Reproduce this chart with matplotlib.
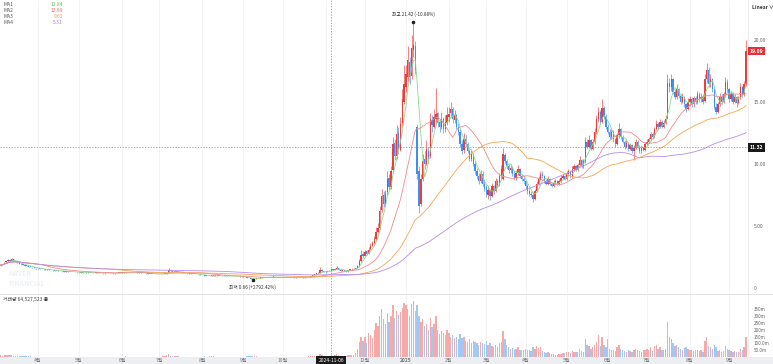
import numpy as np
import pandas as pd
import matplotlib
matplotlib.use("Agg")
import matplotlib.pyplot as plt
from matplotlib.patches import Rectangle

plt.rcParams['font.family'] = ['Noto Sans CJK KR', 'DejaVu Sans']

# ---------------- data (daily, 2024-03-04 .. 2025-09-12) ----------------
start_date = "2024-03-04"

opens = [
    1.80, 1.84, 1.92, 2.06, 2.14, 2.26, 2.20, 2.30, 2.17, 2.10, 2.04, 1.96, 1.92, 1.84, 1.80, 1.78, 1.73, 1.70, 1.67, 1.63,
    1.60, 1.58, 1.55, 1.52, 1.50, 1.47, 1.50, 1.46, 1.44, 1.42, 1.40, 1.37, 1.40, 1.36, 1.35, 1.32, 1.35, 1.32, 1.29, 1.31, 1.27, 1.30,
    1.27, 1.26, 1.25, 1.28, 1.30, 1.26, 1.24, 1.22, 1.20, 1.22, 1.25, 1.24, 1.22, 1.20, 1.18, 1.20, 1.22, 1.21, 1.19, 1.18, 1.20, 1.22, 1.24,
    1.23, 1.24, 1.26, 1.30, 1.28, 1.27, 1.29, 1.30, 1.28, 1.26, 1.25, 1.24, 1.22, 1.20, 1.18, 1.16, 1.15, 1.14, 1.13, 1.12,
    1.12, 1.12, 1.13, 1.14, 1.15, 1.21, 1.44, 1.35, 1.30, 1.32, 1.36, 1.30, 1.28, 1.25, 1.22, 1.20, 1.18, 1.17, 1.16, 1.15, 1.14, 1.12, 1.10,
    1.08, 1.05, 1.00, 0.98, 0.95, 0.97, 1.00, 1.02, 1.00, 0.98, 0.97, 0.96, 0.98, 1.00, 0.99, 0.97, 0.96, 0.95, 0.94, 0.96, 0.95, 0.93,
    0.92, 0.90, 0.86, 0.82, 0.78, 0.74, 0.70, 0.72, 0.78, 0.82, 0.85, 0.86, 0.88, 0.87, 0.86, 0.88, 0.90, 0.89, 0.88, 0.87, 0.88,
    0.89, 0.88, 0.87, 0.86, 0.88, 0.87, 0.86, 0.85, 0.86, 0.87, 0.88, 0.86, 0.85, 0.86, 0.88, 0.90, 0.96, 1.04, 1.12, 1.18, 1.23, 1.44, 1.35,
    1.31, 1.28, 1.36, 1.40, 1.50, 1.45, 1.55, 1.62, 1.48, 1.40, 1.42, 1.38, 1.35, 1.45, 1.50, 1.55, 1.52, 1.60, 1.76, 2.20, 2.72,
    2.62, 2.95, 2.78, 3.12, 3.42, 3.62, 3.98, 4.55, 4.85, 6.30, 7.50, 6.80, 7.70, 8.90, 8.10, 9.50, 11.70, 10.60, 12.50, 11.10, 13.30, 15.00,
    16.2, 17.0, 18.2, 17.1, 19.2, 19.5, 13.0, 9.4, 6.8, 8.8, 10.4, 10.0, 11.0, 10.6, 13.5, 13.0, 13.6, 14.1, 13.4, 13.0, 13.6, 12.8, 13.3,
    13.8, 14.1, 14.4, 13.5, 13.9, 13.0, 12.6, 11.6, 11.1, 12.0, 11.6, 11.0, 10.4, 10.8, 10.0, 9.4, 9.0, 8.6, 9.2, 8.4,
    8.1, 7.5, 7.9, 7.4, 8.2, 7.8, 8.6, 8.3, 9.0, 8.8, 10.7, 10.2, 9.8, 9.5, 9.7, 9.2, 8.9, 9.3, 9.6, 9.0, 8.8,
    8.6, 8.2, 7.8, 7.6, 7.5, 7.2, 7.8, 8.4, 8.8, 9.2, 9.0, 8.6, 8.4, 8.8, 8.4, 8.2, 8.5, 8.6, 8.4, 8.6, 8.9, 9.0,
    8.8, 9.2, 9.4, 9.0, 9.6, 9.8, 9.5, 9.9, 10.3, 9.8, 10.2, 11.8, 11.4, 11.9, 11.2, 11.8, 12.6, 13.6, 14.2, 13.4, 14.5, 13.8,
    13.0, 12.6, 12.2, 12.6, 12.0, 11.6, 12.3, 12.8, 12.2, 11.8, 11.4, 11.7, 11.2, 11.5, 11.0, 11.3, 11.8, 11.4, 11.0, 11.3, 11.1,
    11.6, 11.8, 12.0, 12.4, 12.2, 12.8, 13.2, 13.0, 13.4, 13.0, 13.3, 13.7, 16.5, 16.2, 16.8, 15.8, 15.4, 16.0, 15.5, 15.0, 15.4, 14.8, 14.4,
    15.0, 15.2, 14.8, 15.3, 15.0, 15.6, 15.2, 15.4, 15.1, 16.8, 17.6, 16.4, 16.8, 16.0, 14.6, 14.2, 14.8, 15.4, 15.0, 15.6, 16.6,
    16.0, 15.2, 15.6, 15.0, 15.4, 14.9, 15.3, 16.2, 15.6, 16.4,
]

highs = [
    1.88, 1.95, 2.10, 2.20, 2.35, 2.32, 2.45, 2.32, 2.20, 2.12, 2.06, 1.98, 1.94, 1.86, 1.83, 1.80, 1.75, 1.72, 1.68, 1.65,
    1.62, 1.60, 1.57, 1.54, 1.51, 1.53, 1.51, 1.48, 1.45, 1.43, 1.41, 1.42, 1.41, 1.38, 1.36, 1.37, 1.36, 1.33, 1.33, 1.32, 1.32, 1.31,
    1.29, 1.28, 1.30, 1.33, 1.31, 1.28, 1.25, 1.23, 1.24, 1.27, 1.26, 1.25, 1.23, 1.21, 1.22, 1.24, 1.23, 1.22, 1.20, 1.22, 1.24, 1.26, 1.25,
    1.26, 1.28, 1.33, 1.32, 1.30, 1.31, 1.32, 1.31, 1.29, 1.27, 1.26, 1.25, 1.23, 1.21, 1.19, 1.17, 1.16, 1.15, 1.14, 1.14,
    1.14, 1.14, 1.15, 1.16, 1.22, 1.60, 1.48, 1.37, 1.35, 1.40, 1.37, 1.31, 1.29, 1.26, 1.23, 1.21, 1.19, 1.18, 1.17, 1.16, 1.15, 1.13, 1.11,
    1.09, 1.06, 1.02, 0.99, 0.98, 1.02, 1.04, 1.03, 1.01, 0.99, 0.98, 0.99, 1.02, 1.01, 1.00, 0.98, 0.97, 0.96, 0.97, 0.97, 0.96, 0.94,
    0.93, 0.91, 0.87, 0.83, 0.79, 0.75, 0.74, 0.80, 0.84, 0.87, 0.88, 0.90, 0.89, 0.88, 0.90, 0.92, 0.91, 0.90, 0.89, 0.90, 0.91,
    0.90, 0.89, 0.88, 0.89, 0.89, 0.88, 0.87, 0.87, 0.88, 0.89, 0.89, 0.87, 0.87, 0.89, 0.92, 0.97, 1.08, 1.16, 1.22, 1.28, 1.70, 1.50, 1.38,
    1.34, 1.38, 1.44, 1.56, 1.52, 1.60, 1.75, 1.64, 1.50, 1.46, 1.44, 1.40, 1.48, 1.55, 1.60, 1.58, 1.64, 1.82, 2.35, 3.10, 2.95,
    3.05, 3.10, 3.30, 3.60, 3.80, 4.20, 4.90, 5.20, 6.60, 8.00, 7.80, 7.90, 9.40, 9.20, 9.80, 12.20, 12.00, 13.10, 13.00, 13.80, 16.00, 18.00,
    18.0, 19.5, 18.6, 20.4, 21.42, 19.9, 13.2, 9.8, 9.2, 10.8, 11.0, 11.9, 11.4, 14.1, 13.9, 14.4, 16.1, 14.2, 13.6, 14.2, 13.8, 13.9, 14.6,
    14.6, 15.0, 14.6, 14.3, 14.0, 13.3, 12.8, 11.9, 12.5, 12.3, 11.8, 11.2, 11.1, 10.9, 10.2, 9.7, 9.3, 9.5, 9.4, 8.7,
    8.3, 8.2, 8.0, 8.5, 8.3, 8.9, 8.8, 9.3, 9.9, 11.3, 10.9, 10.4, 10.0, 10.0, 9.8, 9.4, 9.5, 9.9, 9.7, 9.2, 9.0,
    8.7, 8.4, 8.0, 7.8, 7.7, 8.0, 8.6, 9.0, 9.4, 9.4, 9.1, 8.8, 9.0, 8.9, 8.5, 8.7, 8.8, 8.7, 8.8, 9.1, 9.2, 9.1,
    9.4, 9.6, 9.5, 9.8, 10.0, 9.9, 10.1, 10.6, 10.4, 10.4, 12.2, 12.0, 12.3, 12.0, 12.0, 12.9, 13.9, 14.6, 14.3, 15.2, 14.7, 14.0,
    13.2, 12.8, 12.8, 12.7, 12.1, 12.5, 13.3, 12.9, 12.3, 11.9, 11.9, 11.8, 11.7, 11.6, 11.5, 12.0, 11.9, 11.5, 11.5, 11.4, 11.8,
    12.0, 12.2, 12.6, 12.6, 13.0, 13.5, 13.4, 13.6, 13.5, 13.5, 13.9, 17.2, 16.9, 17.2, 16.9, 16.0, 16.4, 16.1, 15.6, 15.7, 15.5, 14.9, 15.3,
    15.5, 15.4, 15.5, 15.5, 15.9, 15.8, 15.7, 15.6, 17.2, 18.1, 17.8, 17.2, 16.9, 16.2, 14.9, 15.0, 15.7, 15.6, 15.8, 17.0, 16.8,
    16.1, 15.9, 15.8, 15.6, 15.5, 15.5, 16.5, 16.3, 16.7, 20.0,
]

lows = [
    1.76, 1.82, 1.90, 2.02, 2.10, 2.15, 2.16, 2.14, 2.06, 2.02, 1.92, 1.88, 1.82, 1.78, 1.74, 1.70, 1.67, 1.64, 1.60, 1.57,
    1.56, 1.53, 1.50, 1.48, 1.46, 1.46, 1.44, 1.42, 1.40, 1.38, 1.36, 1.36, 1.34, 1.33, 1.31, 1.31, 1.30, 1.28, 1.28, 1.26, 1.26, 1.25,
    1.24, 1.23, 1.24, 1.27, 1.25, 1.23, 1.21, 1.19, 1.19, 1.21, 1.22, 1.21, 1.19, 1.17, 1.17, 1.19, 1.20, 1.18, 1.16, 1.17, 1.19, 1.21, 1.21,
    1.22, 1.23, 1.25, 1.27, 1.26, 1.26, 1.28, 1.27, 1.25, 1.24, 1.23, 1.21, 1.19, 1.17, 1.15, 1.14, 1.13, 1.12, 1.11, 1.10,
    1.10, 1.11, 1.12, 1.13, 1.14, 1.20, 1.33, 1.28, 1.29, 1.31, 1.29, 1.27, 1.24, 1.21, 1.19, 1.17, 1.16, 1.15, 1.14, 1.13, 1.11, 1.09, 1.07,
    1.03, 0.98, 0.96, 0.93, 0.94, 0.96, 0.99, 0.99, 0.97, 0.96, 0.95, 0.95, 0.97, 0.98, 0.96, 0.95, 0.94, 0.93, 0.93, 0.94, 0.92, 0.90,
    0.89, 0.85, 0.81, 0.77, 0.72, 0.66, 0.69, 0.71, 0.77, 0.81, 0.84, 0.85, 0.86, 0.85, 0.85, 0.87, 0.88, 0.87, 0.86, 0.86, 0.87,
    0.87, 0.86, 0.85, 0.85, 0.86, 0.85, 0.84, 0.84, 0.85, 0.86, 0.85, 0.84, 0.84, 0.85, 0.87, 0.89, 0.94, 1.02, 1.10, 1.16, 1.20, 1.32, 1.26,
    1.25, 1.26, 1.34, 1.38, 1.42, 1.43, 1.52, 1.45, 1.38, 1.38, 1.36, 1.33, 1.33, 1.43, 1.48, 1.49, 1.50, 1.58, 1.72, 2.10, 2.45,
    2.55, 2.70, 2.72, 3.05, 3.35, 3.55, 3.90, 4.40, 4.75, 6.10, 6.50, 6.60, 7.50, 7.90, 8.00, 9.30, 10.30, 10.40, 10.80, 11.00, 13.00, 14.80,
    15.8, 16.6, 16.4, 16.8, 18.6, 17.2, 8.8, 6.05, 6.6, 8.6, 9.6, 9.9, 10.1, 10.5, 12.6, 12.9, 13.2, 13.0, 12.6, 12.8, 12.5, 12.6, 13.1,
    13.4, 13.8, 13.3, 13.3, 12.8, 12.3, 11.4, 10.8, 10.9, 11.4, 10.9, 10.2, 10.2, 9.8, 9.2, 8.8, 8.4, 8.5, 8.2, 7.8,
    7.3, 7.2, 7.1, 7.3, 7.6, 7.7, 8.1, 8.2, 8.8, 8.7, 10.0, 9.6, 9.3, 9.3, 9.0, 8.7, 8.7, 9.1, 8.9, 8.6, 8.4,
    8.0, 7.6, 7.4, 7.3, 6.9, 7.1, 7.7, 8.3, 8.7, 8.9, 8.5, 8.3, 8.3, 8.3, 8.1, 8.1, 8.4, 8.3, 8.3, 8.5, 8.8, 8.7,
    8.7, 9.0, 8.9, 8.9, 9.4, 9.4, 9.4, 9.8, 9.7, 9.7, 10.1, 11.2, 11.3, 11.1, 11.1, 11.6, 12.4, 13.4, 13.2, 13.3, 13.6, 12.8,
    12.4, 12.0, 12.0, 11.8, 11.4, 11.5, 12.1, 12.0, 11.7, 11.2, 11.3, 11.0, 11.1, 10.9, 10.3, 11.2, 11.3, 10.9, 10.9, 11.0, 11.0,
    11.5, 11.7, 11.9, 12.0, 12.1, 12.7, 12.8, 12.9, 12.9, 12.9, 13.2, 13.6, 15.8, 15.9, 15.6, 15.2, 15.2, 15.3, 14.8, 14.9, 14.6, 14.2, 14.3,
    14.7, 14.6, 14.6, 14.8, 14.8, 15.0, 15.0, 14.8, 15.0, 16.5, 16.2, 16.2, 15.8, 14.4, 14.0, 14.1, 14.7, 14.8, 14.9, 15.4, 15.8,
    15.0, 15.1, 14.8, 14.9, 14.6, 14.8, 15.2, 15.4, 15.5, 16.3,
]

closes = [
    1.85, 1.90, 2.05, 2.15, 2.25, 2.20, 2.30, 2.18, 2.10, 2.05, 1.95, 1.92, 1.85, 1.80, 1.78, 1.72, 1.70, 1.66, 1.62, 1.60,
    1.58, 1.55, 1.52, 1.50, 1.48, 1.50, 1.46, 1.44, 1.42, 1.40, 1.38, 1.40, 1.36, 1.35, 1.33, 1.35, 1.32, 1.30, 1.31, 1.28, 1.30, 1.27,
    1.26, 1.25, 1.28, 1.30, 1.26, 1.24, 1.22, 1.20, 1.22, 1.25, 1.24, 1.22, 1.20, 1.18, 1.20, 1.22, 1.21, 1.19, 1.18, 1.20, 1.22, 1.24, 1.23,
    1.24, 1.26, 1.30, 1.28, 1.27, 1.29, 1.30, 1.28, 1.26, 1.25, 1.24, 1.22, 1.20, 1.18, 1.16, 1.15, 1.14, 1.13, 1.12, 1.12,
    1.12, 1.13, 1.14, 1.15, 1.20, 1.45, 1.35, 1.30, 1.32, 1.36, 1.30, 1.28, 1.25, 1.22, 1.20, 1.18, 1.17, 1.16, 1.15, 1.14, 1.12, 1.10, 1.08,
    1.05, 1.00, 0.98, 0.95, 0.97, 1.00, 1.02, 1.00, 0.98, 0.97, 0.96, 0.98, 1.00, 0.99, 0.97, 0.96, 0.95, 0.94, 0.96, 0.95, 0.93, 0.92,
    0.90, 0.86, 0.82, 0.78, 0.74, 0.70, 0.72, 0.78, 0.82, 0.85, 0.86, 0.88, 0.87, 0.86, 0.88, 0.90, 0.89, 0.88, 0.87, 0.88, 0.89,
    0.88, 0.87, 0.86, 0.88, 0.87, 0.86, 0.85, 0.86, 0.87, 0.88, 0.86, 0.85, 0.86, 0.88, 0.90, 0.95, 1.05, 1.12, 1.18, 1.22, 1.45, 1.35, 1.30,
    1.28, 1.35, 1.40, 1.50, 1.45, 1.55, 1.62, 1.48, 1.40, 1.42, 1.38, 1.35, 1.45, 1.50, 1.55, 1.52, 1.60, 1.75, 2.20, 2.70, 2.60,
    2.90, 2.75, 3.10, 3.40, 3.60, 3.95, 4.50, 4.80, 6.20, 7.40, 6.80, 7.60, 8.80, 8.10, 9.40, 11.60, 10.60, 12.40, 11.20, 13.20, 15.20, 16.40,
    17.2, 18.4, 17.0, 19.3, 19.6, 17.6, 9.2, 6.6, 8.8, 10.2, 10.0, 11.2, 10.4, 13.6, 13.1, 13.8, 14.0, 13.3, 13.0, 13.6, 12.8, 13.4, 13.9,
    14.0, 14.4, 13.6, 13.9, 13.0, 12.6, 11.6, 11.0, 12.0, 11.6, 11.0, 10.4, 10.8, 10.0, 9.4, 9.0, 8.6, 9.2, 8.4, 8.0,
    7.6, 7.9, 7.4, 8.2, 7.8, 8.6, 8.3, 9.0, 9.6, 10.8, 10.2, 9.8, 9.5, 9.7, 9.2, 8.9, 9.3, 9.6, 9.0, 8.8, 8.6,
    8.2, 7.8, 7.6, 7.5, 7.2, 7.8, 8.4, 8.8, 9.2, 9.0, 8.6, 8.4, 8.8, 8.4, 8.2, 8.5, 8.6, 8.4, 8.6, 8.9, 9.0, 8.8,
    9.2, 9.4, 9.0, 9.6, 9.8, 9.5, 9.9, 10.3, 9.8, 10.2, 11.8, 11.4, 11.9, 11.2, 11.8, 12.6, 13.6, 14.2, 13.4, 14.5, 13.8, 13.0,
    12.6, 12.2, 12.6, 12.0, 11.6, 12.3, 12.8, 12.2, 11.8, 11.4, 11.7, 11.2, 11.5, 11.0, 11.3, 11.8, 11.4, 11.0, 11.3, 11.1, 11.6,
    11.8, 12.0, 12.4, 12.2, 12.8, 13.2, 13.0, 13.4, 13.0, 13.3, 13.6, 16.5, 16.2, 16.8, 15.8, 15.4, 16.0, 15.5, 15.0, 15.4, 14.8, 14.4, 15.0,
    15.2, 14.8, 15.3, 15.0, 15.6, 15.2, 15.4, 15.0, 16.8, 17.6, 16.4, 16.8, 16.0, 14.6, 14.2, 14.8, 15.4, 15.0, 15.6, 16.6, 16.0,
    15.2, 15.6, 15.0, 15.4, 14.9, 15.3, 16.2, 15.6, 16.4, 19.09,
]

# volume in millions of shares
volumes_m = [
    12, 10, 15, 18, 14, 12, 16, 10, 8, 7, 6, 6, 5, 5, 4, 4, 4, 3, 3, 3,
    3, 3, 2, 3, 2, 3, 2, 2, 3, 2, 2, 3, 2, 2, 2, 3, 2, 2, 2, 2, 3, 2,
    2, 2, 3, 3, 2, 2, 2, 2, 2, 3, 2, 2, 2, 2, 2, 2, 2, 2, 2, 2, 3, 3, 2,
    2, 3, 4, 3, 2, 3, 3, 2, 2, 2, 2, 2, 2, 2, 2, 2, 2, 2, 2, 3,
    3, 3, 4, 5, 14, 24, 10, 6, 5, 6, 4, 3, 3, 3, 2, 2, 2, 2, 2, 2, 2, 2, 3,
    3, 4, 3, 2, 5, 8, 4, 3, 2, 2, 2, 3, 3, 2, 2, 2, 2, 2, 2, 2, 2, 2,
    3, 3, 4, 4, 5, 6, 5, 4, 3, 3, 2, 2, 2, 2, 2, 3, 2, 2, 2, 2, 2,
    2, 2, 2, 3, 2, 2, 2, 2, 2, 2, 3, 2, 2, 3, 4, 5, 8, 10, 9, 10, 22, 14, 9,
    8, 10, 9, 12, 10, 14, 20, 12, 9, 8, 8, 9, 12, 14, 16, 15, 30, 60, 110, 150, 120,
    150, 100, 180, 160, 140, 200, 250, 230, 300, 350, 280, 240, 320, 260, 300, 380, 290, 340, 310, 330, 360, 400,
    380, 350, 300, 390, 410, 340, 380, 300, 260, 280, 230, 240, 200, 290, 220, 240, 300, 200, 170, 190, 180, 160, 200,
    180, 150, 160, 140, 150, 130, 170, 140, 150, 120, 110, 130, 100, 120, 110, 100, 90, 110, 100, 95,
    120, 90, 100, 80, 75, 90, 70, 100, 110, 190, 130, 90, 70, 60, 65, 55, 60, 70, 55, 50, 55,
    60, 55, 50, 45, 70, 60, 80, 65, 70, 45, 35, 30, 40, 30, 25, 20, 18, 15, 20, 25, 30, 28,
    35, 40, 30, 45, 40, 35, 40, 60, 45, 40, 130, 90, 80, 60, 70, 90, 110, 160, 80, 150, 90, 70,
    130, 60, 50, 55, 45, 70, 90, 60, 50, 45, 40, 50, 45, 40, 55, 60, 50, 45, 40, 50, 55,
    60, 55, 70, 45, 80, 90, 60, 70, 50, 55, 60, 260, 150, 130, 100, 80, 90, 70, 60, 55, 65, 70, 60,
    55, 50, 45, 50, 55, 45, 50, 40, 120, 150, 80, 70, 60, 90, 70, 45, 50, 40, 45, 80, 60,
    50, 45, 40, 45, 35, 40, 60, 50, 70, 150,
]

ma_windows = [5, 20, 60, 120]
ma_names = ["MA1", "MA2", "MA3", "MA4"]
ma_legend_values = ["12.84", "12.89", "9.62", "5.31"]
price_ticks = [0, 5, 10, 15, 20]
price_tick_labels = ["0", "5.00", "10.00", "15.00", "20.00"]
vol_ticks = [50, 100, 150, 200, 250, 300, 350]
vol_tick_labels = ["50.0m", "100.0m", "150m", "200m", "250m", "300m", "350m"]
crosshair_date = "2024-11-06"
crosshair_price = 11.32
high_text = "21.42 (-10.88%)"
low_text = "0.66 (+2792.42%)"
volume_text = "거래량 64,527,523"

# ---------------- styling ----------------
W, H = 773, 364
RED = "#ef3b3b"
BLUE = "#3d8ff0"
VRED = "#f6a9a9"
VBLUE = "#a3c8f3"
MA_COLORS = ["#8fd88c", "#f28b8b", "#f7a552", "#b68cf0"]
MA_TXT = ["#5cc35a", "#f06a6a", "#f59a3a", "#a77ae8"]
GRID = "#eeeeee"

o = np.array(opens); h = np.array(highs); l = np.array(lows); c = np.array(closes)
v = np.array(volumes_m, dtype=float)
n = len(c)
idx = np.arange(n)
dates = pd.bdate_range(start_date, periods=n)

fig = plt.figure(figsize=(W / 100, H / 100), dpi=100)
fig.patch.set_facecolor("white")

def fy(y):  # pixel top -> figure fraction
    return 1 - y / H

PANE_R = 748
ax = fig.add_axes([0, fy(293), PANE_R / W, 293 / H])
axv = fig.add_axes([0, fy(357), PANE_R / W, (357 - 294) / H])
axd = fig.add_axes([0, 0, PANE_R / W, 7.5 / H])

xlim = (-0.3, n + 0.1)
for a in (ax, axv, axd):
    a.set_xlim(*xlim)
    for s in a.spines.values():
        s.set_visible(False)
    a.set_xticks([])

ax.set_ylim(-0.4, 23.2)
axv.set_ylim(0, 463)
axd.set_ylim(0, 1)
axd.set_yticks([])
axd.set_facecolor("#eceef1")
fig.patches.append(Rectangle((PANE_R / W, 0), 1 - PANE_R / W, 7.5 / H, transform=fig.transFigure,
                             facecolor="#eceef1", edgecolor="none"))

ci = int(np.where(dates == pd.Timestamp(crosshair_date))[0][0])

# month grid + labels (label under the crosshair date box is hidden, as in the reference)
months = pd.Series(dates.to_period("M"))
month_starts = [i for i in range(1, n) if months[i] != months[i - 1]]
for i in month_starts:
    d = dates[i]
    for a in (ax, axv):
        a.axvline(i, color=GRID, lw=0.5, zorder=0)
    if abs(i - ci) < 10:
        continue
    lab = str(d.year) if d.month == 1 else f"{d.month}월"
    axd.text(i, 0.45, lab, ha="center", va="center", fontsize=3.6, color="#777777",
             fontweight="bold" if d.month == 1 else "normal")

# separators
fig.add_artist(plt.Line2D([0, 1], [fy(293.5), fy(293.5)], transform=fig.transFigure, color="#dddddd", lw=0.6))
fig.add_artist(plt.Line2D([PANE_R / W, PANE_R / W], [fy(357), 1], transform=fig.transFigure, color="#e4e4e4", lw=0.5))

# candles
up = c >= o
col = np.where(up, RED, BLUE)
ax.vlines(idx, l, h, colors=col, lw=0.45, zorder=2)
body_bottom = np.minimum(o, c)
body_h = np.maximum(np.abs(c - o), 0.04)
ax.bar(idx, body_h, bottom=body_bottom, width=0.72, color=col, lw=0, zorder=2)

# moving averages
cs = pd.Series(c)
for w, mc in zip(ma_windows, MA_COLORS):
    ax.plot(idx, cs.rolling(w, min_periods=1).mean(), color=mc, lw=0.6, zorder=3)

# volume
vcol = np.where(up, VRED, VBLUE)
axv.bar(idx, v, width=0.72, color=vcol, lw=0, zorder=2)

# right axes
ax.yaxis.tick_right()
ax.set_yticks(price_ticks)
ax.set_yticklabels(price_tick_labels)
ax.tick_params(axis="y", length=0, pad=4, labelsize=3.6, labelcolor="#666666")
axv.yaxis.tick_right()
axv.set_yticks(vol_ticks)
axv.set_yticklabels(vol_tick_labels)
axv.tick_params(axis="y", length=0, pad=4, labelsize=3.3, labelcolor="#666666")

# crosshair
for a in (ax, axv):
    a.axvline(ci, color="#888888", lw=0.5, ls=(0, (2, 2)), zorder=4)
ax.axhline(crosshair_price, color="#888888", lw=0.5, ls=(0, (2, 2)), zorder=4)

def price_label(val, face):
    yfig = ax.transData.transform((0, val))[1] / fig.dpi / (H / 100)
    fig.text(750 / W, yfig, f"{val:.2f}", ha="left", va="center", fontsize=3.6, color="white",
             fontweight="bold",
             bbox=dict(boxstyle="square,pad=0.35", facecolor=face, edgecolor="none"))

price_label(crosshair_price, "#1a1a1a")
price_label(c[-1], "#e8303a")

axd.text(ci, 0.45, crosshair_date, ha="center", va="center", fontsize=3.6, color="white", zorder=5,
         bbox=dict(boxstyle="square,pad=0.4", facecolor="#1a1a1a", edgecolor="none"))

# high / low annotations
hi = int(np.argmax(h)); lo = int(np.argmin(l))
ax.plot(hi, h[hi], "o", ms=1.6, color="#222222", zorder=5)
ax.text(hi, h[hi] + 0.45, "최고 " + high_text, ha="center", va="bottom", fontsize=3.4, color="#333333")
ax.plot(lo, l[lo], "s", ms=1.4, color="#222222", zorder=5)
ax.text(lo, l[lo] - 0.35, "최저 " + low_text, ha="center", va="top", fontsize=3.4, color="#333333")

# legend
for k, (nm, val, tc) in enumerate(zip(ma_names, ma_legend_values, MA_TXT)):
    yy = fy(4.8 + k * 5.9)
    fig.text(4 / W, yy, nm, ha="left", va="center", fontsize=3.6, color="#555555")
    fig.text(63 / W, yy, val, ha="right", va="center", fontsize=3.6, color=tc)

fig.text(752 / W, fy(7), "Linear ∨", ha="left", va="center", fontsize=3.6, color="#333333", fontweight="bold")
fig.text(3 / W, fy(299), volume_text + " ◉", ha="left", va="center", fontsize=3.5, color="#444444")

# watermark
fig.text(8 / W, fy(274), "NAVER", ha="left", va="center", fontsize=5, color="#eef0f4", fontweight="bold")
fig.text(8 / W, fy(283), "FINANCIAL", ha="left", va="center", fontsize=5, color="#eef0f4", fontweight="bold")

ax.set_xticks([]); axv.set_xticks([])
fig.savefig("out.png", dpi=100, facecolor="white")
